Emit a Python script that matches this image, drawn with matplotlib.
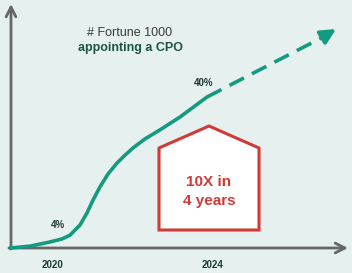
import matplotlib
matplotlib.use('Agg')
import matplotlib.pyplot as plt
from matplotlib.patches import Polygon
from matplotlib.transforms import Affine2D, blended_transform_factory

plt.rcParams['font.family'] = ['Liberation Sans', 'DejaVu Sans']

# Curve data: share of Fortune 1000 with a CPO (illustrative S-curve)
years = [2018.925, 2019.425, 2019.925, 2020.225, 2020.425, 2020.675, 2020.85,
         2021.0, 2021.175, 2021.375, 2021.6, 2021.8, 2022.0, 2022.3,
         2022.675, 2023.175, 2023.85]
share = [0.0, 0.5, 1.6, 2.4, 3.4, 6.1, 9.3, 12.7, 16.2, 19.6, 22.5, 24.6,
         26.5, 28.9, 31.3, 34.7, 40.0]

# Projection (dashed) beyond 2024
proj_years = [2023.85, 2026.7]
proj_share = [40.0, 55.6]
proj_tip = (2027.075, 58.0)

tick_years = [2020, 2024]
tick_labels = ['2020', '2024']
point_labels = [(2020.125, 4, '4%'), (2023.775, 40, '40%')]

BG = '#e6f0ee'
TEAL = '#149a80'
RED = '#cf3b36'
GRAY = '#666666'
DARK = '#1f3a33'

fig = plt.figure(figsize=(3.52, 2.73), dpi=100)
fig.patch.set_facecolor(BG)
ax = fig.add_axes([0, 0, 1, 1])
ax.set_facecolor(BG)
ax.axis('off')
ax.set_xlim(2018.675, 2027.475)
ax.set_ylim(-6.62, 65.7)

# pixel coordinates for decorations (origin top-left)
px = Affine2D().scale(1 / 352, -1 / 273).translate(0, 1) + fig.transFigure
xdata_ypx = blended_transform_factory(ax.transData, px)

# axes arrows
ax.annotate('', xy=(11, 4), xytext=(11, 249), xycoords=px, textcoords=px,
            arrowprops=dict(arrowstyle='->,head_length=0.7,head_width=0.35',
                            color=GRAY, lw=2.0, shrinkA=0, shrinkB=0))
ax.annotate('', xy=(348, 248), xytext=(9, 248), xycoords=px, textcoords=px,
            arrowprops=dict(arrowstyle='->,head_length=0.7,head_width=0.35',
                            color=GRAY, lw=2.0, shrinkA=0, shrinkB=0))

# curve
ax.plot(years, share, color=TEAL, lw=2.6, solid_capstyle='round',
        solid_joinstyle='round', zorder=3)
ax.plot(proj_years, proj_share, color=TEAL, lw=2.6, dashes=(4.5, 2.5),
        zorder=3)
ax.annotate('', xy=proj_tip, xytext=(proj_years[1], proj_share[1]),
            arrowprops=dict(arrowstyle='-|>,head_length=0.9,head_width=0.45',
                            color=TEAL, lw=2.6, shrinkA=0, shrinkB=0),
            zorder=3)

# point labels
offsets = [5.7, 10]
for (x, y, s), dy in zip(point_labels, offsets):
    ax.annotate(s, xy=(x, y), xytext=(0, dy), textcoords='offset points',
                ha='center', va='center', fontsize=7, fontweight='bold',
                color=DARK)

# year ticks
for x, s in zip(tick_years, tick_labels):
    ax.text(x, 265, s, transform=xdata_ypx, ha='center', va='center',
            fontsize=7, fontweight='bold', color=DARK)

# title
ax.text(130, 33, '# Fortune 1000', transform=px, ha='center', va='center',
        fontsize=9, color='#3a3a3a')
ax.text(130, 48, 'appointing a CPO', transform=px, ha='center', va='center',
        fontsize=9, fontweight='bold', color='#1d5448')

# house callout
house = Polygon([(159, 230), (259, 230), (259, 148), (209, 126), (159, 148)],
                closed=True, transform=px, facecolor='white', edgecolor=RED,
                lw=2.2, joinstyle='miter', zorder=4)
ax.add_patch(house)
ax.text(209, 182, '10X in', transform=px, ha='center', va='center',
        fontsize=11, fontweight='bold', color=RED, zorder=5)
ax.text(209, 201, '4 years', transform=px, ha='center', va='center',
        fontsize=11, fontweight='bold', color=RED, zorder=5)

plt.savefig('out.png', dpi=100, facecolor=BG)
